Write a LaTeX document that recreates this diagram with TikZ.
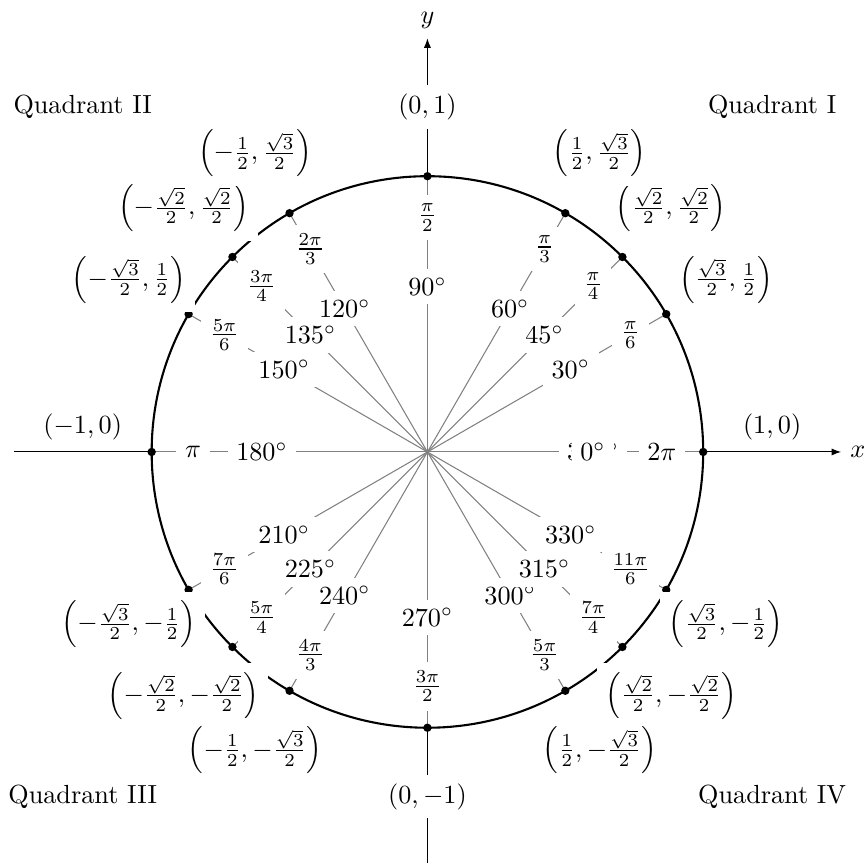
\documentclass[tikz,border=0pt]{standalone}
\usepackage{amsmath}
\usepackage{tikz}
\usetikzlibrary{arrows.meta}
\tikzset{
  axis/.style={-{Latex[length=3.6pt,width=2.7pt]}, line width=0.4pt},
  ray/.style={draw=gray, line width=0.4pt},
  rim/.style={draw=black, thick},
  dot/.style={circle, fill=black, minimum size=3.2pt, inner sep=0pt},
  lbl/.style={fill=white, inner sep=0.333em}
}
\begin{document}
\begin{tikzpicture}[
  scale=3.7,
  quad/.style={inner sep=0.333em},
  axlbl/.style={inner sep=0.333em}
]
\useasboundingbox (-1.55,-1.487) rectangle (1.594,1.639);
% axes
\coordinate (O) at (0,0);
\coordinate (xl) at (-1.5,0);
\coordinate (xr) at (1.5,0);
\coordinate (yb) at (0,-1.5);
\coordinate (yt) at (0,1.5);
\draw[axis] (xl) -- (xr) node[axlbl, right] (xlab) {$x$};
\draw[axis] (yb) -- (yt) node[axlbl, above] (ylab) {$y$};
% unit circle
\draw[rim] (O) circle[radius=1];
% rays, points and degrees
\foreach \a in {30,45,60,90,120,135,150,180,210,225,240,270,300,315,330,360} {
  \coordinate (p\a) at (\a:1);
  \draw[ray] (O) -- (p\a);
  \node[dot] (d\a) at (p\a) {};
  \node[lbl] (g\a) at (\a:0.6) {$\a^\circ$};
}
\node[lbl] (g0) at (0:0.6) {$0^\circ$};
% radians
\foreach \a/\rad in {
  30/\frac{\pi}{6}, 45/\frac{\pi}{4}, 60/\frac{\pi}{3}, 90/\frac{\pi}{2},
  120/\frac{2\pi}{3}, 135/\frac{3\pi}{4}, 150/\frac{5\pi}{6}, 180/\pi,
  210/\frac{7\pi}{6}, 225/\frac{5\pi}{4}, 240/\frac{4\pi}{3}, 270/\frac{3\pi}{2},
  300/\frac{5\pi}{3}, 315/\frac{7\pi}{4}, 330/\frac{11\pi}{6}, 360/2\pi}
  \node[lbl] (r\a) at (\a:0.85) {$\rad$};
% points on the circle
\foreach \a/\cx/\cy in {
  30/\frac{\sqrt{3}}{2}/\frac{1}{2},
  45/\frac{\sqrt{2}}{2}/\frac{\sqrt{2}}{2},
  60/\frac{1}{2}/\frac{\sqrt{3}}{2},
  150/-\frac{\sqrt{3}}{2}/\frac{1}{2},
  135/-\frac{\sqrt{2}}{2}/\frac{\sqrt{2}}{2},
  120/-\frac{1}{2}/\frac{\sqrt{3}}{2},
  210/-\frac{\sqrt{3}}{2}/-\frac{1}{2},
  225/-\frac{\sqrt{2}}{2}/-\frac{\sqrt{2}}{2},
  240/-\frac{1}{2}/-\frac{\sqrt{3}}{2},
  330/\frac{\sqrt{3}}{2}/-\frac{1}{2},
  315/\frac{\sqrt{2}}{2}/-\frac{\sqrt{2}}{2},
  300/\frac{1}{2}/-\frac{\sqrt{3}}{2}}
  \node[lbl] (c\a) at (\a:1.25) {$\left(\cx,\cy\right)$};
% points on the axes
\node[axlbl, above=1pt] (c180) at (-1.25,0) {$(-1,0)$};
\node[axlbl, above=1pt] (c0) at (1.25,0) {$(1,0)$};
\node[lbl] (c270) at (0,-1.25) {$(0,-1)$};
\node[lbl] (c90) at (0,1.25) {$(0,1)$};
% quadrants
\node[quad] (q1) at (1.25,1.25) {Quadrant I};
\node[quad] (q2) at (-1.25,1.25) {Quadrant II};
\node[quad] (q3) at (-1.25,-1.25) {Quadrant III};
\node[quad] (q4) at (1.25,-1.25) {Quadrant IV};
\end{tikzpicture}
\end{document}
